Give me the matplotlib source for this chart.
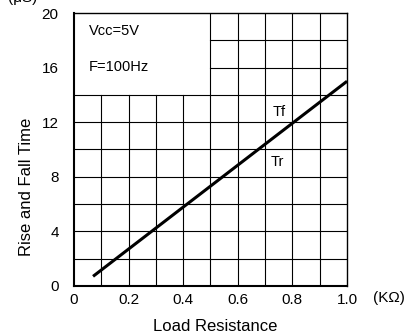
import matplotlib
matplotlib.use('agg')
import matplotlib.pyplot as plt

plt.rcParams['font.family'] = ['Liberation Sans', 'DejaVu Sans']

# load resistance (kOhm) vs rise/fall time (us)
load_r = [0.07, 1.0]
rise_fall = [0.7, 15.0]

x_ticks = [0, 0.2, 0.4, 0.6, 0.8, 1.0]
x_labels = ['0', '0.2', '0.4', '0.6', '0.8', '1.0']
y_ticks = [0, 4, 8, 12, 16, 20]

fig = plt.figure(figsize=(4.04, 3.34), dpi=100)
ax = fig.add_axes([0.183, 0.144, 0.676, 0.817])
ax.set_xlim(0, 1.0)
ax.set_ylim(0, 20)

# grid, leaving the upper-left box empty for the conditions text
gc = 'black'
gw = 0.8
for gx in [0.1, 0.2, 0.3, 0.4]:
    ax.plot([gx, gx], [0, 14], color=gc, lw=gw)
for gx in [0.5, 0.6, 0.7, 0.8, 0.9]:
    ax.plot([gx, gx], [0, 20], color=gc, lw=gw)
for gy in [2, 4, 6, 8, 10, 12, 14]:
    ax.plot([0, 1.0], [gy, gy], color=gc, lw=gw)
for gy in [16, 18]:
    ax.plot([0.5, 1.0], [gy, gy], color=gc, lw=gw)

ax.plot(load_r, rise_fall, color='black', lw=2.2, solid_capstyle='butt')

ax.text(0.056, 18.68, 'Vcc=5V', fontsize=10.5, va='center')
ax.text(0.056, 16.04, 'F=100Hz', fontsize=10.5, va='center')
ax.text(0.751, 12.77, 'Tf', fontsize=10.5, ha='center', va='center')
ax.text(0.745, 9.1, 'Tr', fontsize=10.5, ha='center', va='center')

ax.set_xticks(x_ticks)
ax.set_xticklabels(x_labels)
ax.set_yticks(y_ticks)
ax.tick_params(length=0, labelsize=11)
ax.tick_params(axis='y', pad=11)
ax.tick_params(axis='x', pad=5)

for s in ['left', 'bottom']:
    ax.spines[s].set_linewidth(1.5)
for s in ['top', 'right']:
    ax.spines[s].set_linewidth(1.0)

ax.set_xlabel('Load Resistance', fontsize=12)
ax.xaxis.set_label_coords(0.516, -0.147)
ax.xaxis.label.set_va('center')
ax.set_ylabel('Rise and Fall Time', fontsize=12)
ax.yaxis.set_label_coords(-0.172, 0.363)
ax.yaxis.label.set_va('center')

fig.text(0.962, 0.108, '(KΩ)', fontsize=11, ha='center', va='center')
fig.text(0.055, 1.005, '(μS)', fontsize=11, ha='center', va='center')

fig.savefig('out.png', dpi=100)
